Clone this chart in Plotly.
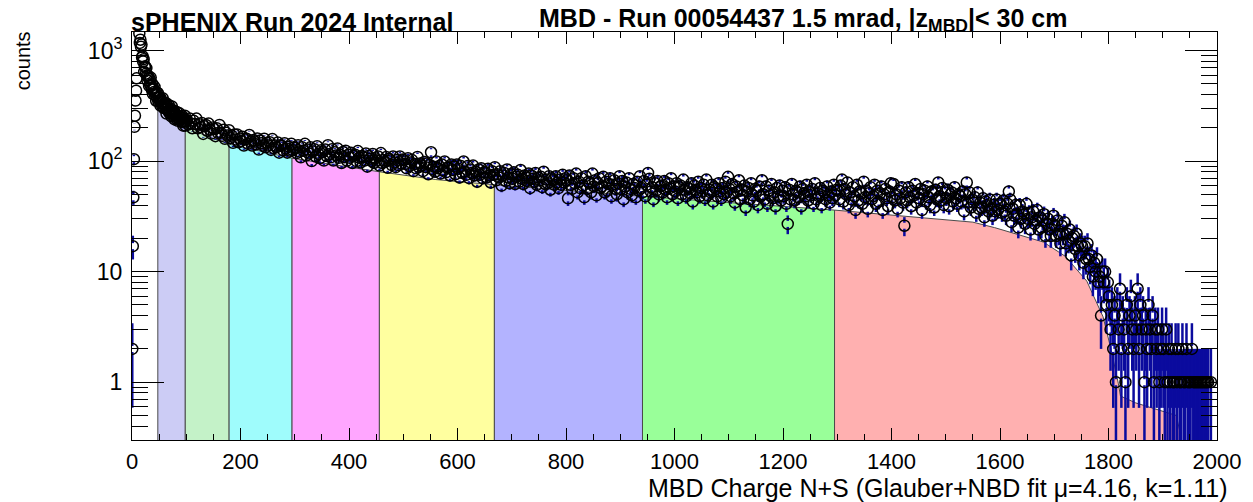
import numpy as np
import plotly.graph_objects as go

# ---------------- data ----------------
# very first bins (width 1, x = 0 .. 10): threshold rise
rise_x = [0.5, 1.5, 2.5, 3.5, 4.5, 5.5, 6.5, 7.5, 8.5, 9.5]
rise_counts = [2, 17, 47, 104, 204, 257, 352, 433, 560, 2100]

# bins of width 1 from 10 to 100
fine_start, fine_width = 10, 1
fine_counts = [
    2060, 1710, 1744, 1421, 1170, 1251, 1080, 1130, 865, 887,
    795, 835, 641, 717, 714, 616, 693, 596, 535, 593,
    564, 478, 553, 488, 569, 478, 443, 497, 405, 453,
    422, 468, 393, 410, 351, 416, 373, 413, 347, 374,
    355, 378, 317, 354, 356, 317, 370, 326, 302, 331,
    320, 300, 335, 269, 318, 299, 287, 322, 273, 293,
    278, 298, 254, 312, 260, 274, 264, 285, 238, 272,
    264, 242, 278, 250, 231, 256, 237, 270, 238, 253,
    246, 225, 256, 228, 209, 244, 228, 257, 209, 228,
]

# bins of width 2.5 from 100 to 2000 (40 bins per 100 units)
main_start, main_width = 100, 2.5
main_counts = [
    # 100-200
    234, 214, 243, 218, 198, 231, 216, 242, 198, 215, 203, 221, 176, 206, 212, 188, 218, 192, 177, 201,
    195, 168, 198, 179, 212, 180, 169, 192, 159, 180, 170, 190, 161, 170, 146, 174, 157, 174, 148, 160,
    # 200-300
    152, 166, 138, 157, 159, 143, 172, 150, 138, 155, 150, 142, 160, 127, 153, 145, 138, 159, 133, 146,
    138, 148, 126, 158, 131, 138, 133, 147, 119, 139, 137, 125, 145, 130, 119, 135, 124, 143, 125, 133,
    # 300-400
    131, 118, 139, 122, 108, 133, 124, 143, 112, 127, 117, 133, 100, 122, 128, 110, 136, 116, 106, 125,
    120, 101, 127, 111, 139, 115, 108, 128, 101, 120, 112, 130, 107, 114, 96, 121, 108, 124, 101, 114,
    # 400-500
    107, 119, 96, 111, 114, 100, 123, 107, 97, 111, 108, 101, 117, 89, 111, 105, 100, 116, 96, 106,
    101, 110, 91, 118, 96, 102, 98, 109, 87, 105, 101, 92, 110, 97, 88, 102, 92, 110, 95, 103,
    # 500-600
    102, 94, 86, 106, 90, 97, 102, 81, 94, 86, 109, 88, 95, 91, 81, 98, 88, 95, 76, 92,
    120, 84, 89, 80, 99, 86, 90, 77, 93, 82, 99, 79, 87, 88, 74, 93, 83, 89, 76, 93,
    # 600-700
    85, 71, 90, 78, 99, 80, 75, 90, 70, 84, 78, 91, 74, 80, 65, 84, 75, 86, 70, 79,
    79, 71, 85, 74, 64, 81, 75, 88, 67, 76, 71, 81, 60, 74, 78, 66, 84, 71, 63, 76,
    # 700-800
    69, 79, 62, 72, 75, 65, 83, 69, 62, 74, 71, 66, 77, 57, 74, 69, 65, 78, 61, 71,
    67, 72, 58, 80, 62, 68, 63, 73, 55, 70, 67, 61, 73, 64, 57, 68, 61, 75, 64, 70,
    # 800-900
    67, 46, 74, 61, 56, 70, 63, 77, 52, 65, 57, 70, 60, 47, 73, 56, 65, 63, 52, 77,
    59, 67, 49, 63, 70, 57, 59, 72, 52, 65, 54, 62, 70, 48, 61, 67, 56, 50, 63, 73,
    # 900-1000
    56, 66, 45, 59, 64, 52, 70, 56, 49, 62, 57, 47, 65, 54, 73, 57, 52, 66, 48, 61,
    78, 69, 53, 58, 45, 63, 54, 66, 50, 59, 60, 52, 66, 55, 47, 63, 57, 70, 50, 59,
    # 1000-1100
    53, 63, 46, 58, 60, 50, 68, 55, 48, 58, 56, 51, 63, 43, 60, 55, 52, 65, 48, 57,
    53, 61, 46, 68, 49, 55, 52, 61, 43, 58, 56, 48, 63, 53, 46, 57, 50, 65, 52, 72,
    # 1100-1200
    56, 48, 62, 51, 42, 59, 53, 67, 45, 55, 49, 60, 38, 53, 57, 45, 63, 49, 43, 56,
    54, 40, 59, 48, 67, 50, 45, 59, 41, 54, 49, 62, 46, 52, 39, 57, 48, 60, 44, 54,
    # 1200-1300
    48, 58, 41, 27, 55, 45, 62, 50, 44, 54, 52, 47, 59, 39, 56, 51, 48, 61, 44, 53,
    49, 56, 41, 63, 45, 51, 48, 57, 40, 54, 52, 45, 59, 49, 42, 53, 46, 61, 49, 55,
    # 1300-1400
    54, 45, 60, 68, 43, 56, 50, 64, 40, 52, 45, 58, 48, 36, 61, 44, 53, 51, 41, 65,
    47, 54, 37, 51, 58, 45, 48, 61, 41, 54, 43, 51, 59, 36, 50, 56, 46, 39, 53, 63,
    # 1400-1500
    47, 62, 44, 50, 37, 54, 46, 58, 42, 26, 52, 44, 58, 47, 39, 54, 49, 62, 42, 51,
    46, 56, 36, 50, 54, 43, 59, 47, 40, 53, 51, 38, 55, 45, 64, 48, 44, 57, 40, 52,
    # 1500-1600
    46, 55, 39, 50, 52, 43, 58, 46, 41, 50, 48, 43, 53, 35, 50, 64, 42, 52, 38, 45,
    42, 47, 34, 52, 37, 42, 38, 46, 31, 43, 40, 35, 45, 37, 32, 40, 35, 45, 36, 41,
    # 1600-1700
    41, 34, 44, 35, 32, 41, 53, 45, 28, 37, 32, 40, 33, 25, 40, 30, 35, 33, 27, 41,
    30, 34, 24, 31, 35, 27, 29, 36, 24, 31, 25, 29, 33, 21, 27, 30, 24, 21, 27, 32,
    # 1700-1800
    26, 21, 29, 22, 18, 26, 22, 28, 18, 22, 19, 24, 14, 20, 21, 16, 22, 17, 14, 18,
    17, 12, 17, 13, 18, 13, 11, 14, 9, 12, 10, 13, 8, 9, 4, 10, 8, 10, 5, 8,
    # 1800-1900
    6, 3, 5, 2, 4, 1, 5, 3, 7, 2, 4, 3, 1, 5, 2, 4, 6, 3, 2, 4,
    3, 7, 2, 5, 3, 4, 1, 3, 2, 5, 3, 2, 4, 1, 3, 2, 3, 1, 2, 3,
    # 1900-2000
    2, 1, 3, 1, 2, 1, 2, 1, 1, 2, 1, 2, 1, 1, 2, 1, 1, 2, 1, 1,
    1, 2, 1, 1, 1, 1, 1, 1, 1, 1, 1, 1, 1, 1, 0, 1, 0, 0, 0, 0,
]

fit_x = [47.6, 60, 75, 98.2, 130, 179, 230, 295, 370, 456, 560, 668, 800, 941,
         1100, 1295, 1450, 1550, 1590, 1620, 1680, 1720, 1760, 1790, 1805, 1818,
         1822, 1850, 1900, 1925, 1932]
fit_y = [344, 300, 262, 216, 174, 142, 124, 106, 93, 80, 68, 61, 54, 48,
         42, 36, 31, 28, 25, 22.5, 18.5, 13.8, 8.2, 3.9, 1.95, 0.98,
         0.75, 0.65, 0.55, 0.5, 0.35]

# centrality class boundaries and colours
class_edges = [47.6, 98.2, 179, 295, 456, 668, 941, 1295, 1932]
class_colors = ["#ccccf5", "#c4f2c8", "#9ffcfc", "#ffa6ff",
                "#ffff9f", "#b3b3ff", "#99ff99", "#ffb0b0"]

x_ticks = [0, 200, 400, 600, 800, 1000, 1200, 1400, 1600, 1800, 2000]
y_ticks = [1, 10, 100, 1000]
y_ticktext = ["1", "10", "10<sup>2</sup>", "10<sup>3</sup>"]
y_minor = [0.3, 0.4, 0.5, 0.6, 0.7, 0.8, 0.9,
           2, 3, 4, 5, 6, 7, 8, 9,
           20, 30, 40, 50, 60, 70, 80, 90,
           200, 300, 400, 500, 600, 700, 800, 900]

title_left = "sPHENIX Run 2024 Internal"
title_right = "MBD - Run 00054437 1.5 mrad, |z<sub>MBD</sub>|< 30 cm"
x_title = "MBD Charge N+S (Glauber+NBD fit \u03bc=4.16, k=1.11)"
y_title = "counts"

# ---------------- layout constants ----------------
W, H = 1253, 502
ML, MR, MT, MB = 132, 28, 32, 62
Y_RANGE = [np.log10(0.3), np.log10(1469)]
MARKER_SIZE = 11
BAR_GAP_PX = 3.0   # half gap left in the error bar around each marker

# ---------------- build points ----------------
fine_x = [fine_start + fine_width * (i + 0.5) for i in range(len(fine_counts))]
main_x = [main_start + main_width * (i + 0.5) for i in range(len(main_counts))]
all_x = np.array(rise_x + fine_x + main_x, dtype=float)
all_y = np.array(rise_counts + fine_counts + main_counts, dtype=float)
keep = all_y > 0
all_x, all_y = all_x[keep], all_y[keep]
all_err = np.sqrt(all_y)

# ROOT leaves a gap in the error bar where the marker is drawn
px_per_decade = (H - MT - MB) / (Y_RANGE[1] - Y_RANGE[0])
k = 10 ** (BAR_GAP_PX / px_per_decade)
ex, ey = [], []
for x, y, e in zip(all_x, all_y, all_err):
    hi, lo = y + e, y - e
    if hi > y * k:
        ex += [x, x, None]
        ey += [y * k, hi, None]
    lo_v = lo if lo > 0 else 1e-3
    if lo_v < y / k:
        ex += [x, x, None]
        ey += [lo_v, y / k, None]

FONT = "Liberation Sans, Arial, Helvetica, sans-serif"
fig = go.Figure()

# filled centrality classes under the fit
fx = np.array(fit_x)
fy = np.array(fit_y)
floor = 0.01
for i, col in enumerate(class_colors):
    a, b = class_edges[i], class_edges[i + 1]
    m = (fx >= a - 1e-9) & (fx <= b + 1e-9)
    px = list(fx[m]) + [b, a, a]
    py = list(fy[m]) + [floor, floor, fy[m][0]]
    fig.add_trace(go.Scatter(x=px, y=py, mode="lines", fill="toself",
                             fillcolor=col, line=dict(color="#4a4a4a", width=1),
                             hoverinfo="skip", showlegend=False))

# statistical error bars (outside the markers)
fig.add_trace(go.Scatter(x=ex, y=ey, mode="lines",
                         line=dict(color="#0b0b9e", width=2.5),
                         hoverinfo="skip", showlegend=False))

# data histogram
fig.add_trace(go.Scatter(
    x=all_x, y=all_y, mode="markers",
    marker=dict(symbol="circle-open", size=MARKER_SIZE, color="black",
                line=dict(width=1.5, color="black")),
    showlegend=False))

fig.update_layout(
    width=W, height=H, autosize=False,
    margin=dict(l=ML, r=MR, t=MT, b=MB, pad=0),
    paper_bgcolor="white", plot_bgcolor="white",
    font=dict(family=FONT, color="black", size=22),
    showlegend=False,
)
fig.update_xaxes(
    range=[0, 2000], tickvals=x_ticks, ticks="inside", ticklen=12, tickwidth=1,
    tickcolor="black", showline=True, linecolor="black", linewidth=1, mirror="ticks",
    showgrid=False, zeroline=False, tickfont=dict(size=22, family=FONT),
    ticklabelstandoff=2,
    minor=dict(dtick=50, tick0=0, ticks="inside", ticklen=6, tickcolor="black", showgrid=False),
)
fig.update_yaxes(
    type="log", range=Y_RANGE, tickvals=y_ticks, ticktext=y_ticktext,
    ticks="inside", ticklen=32, tickwidth=1, tickcolor="black",
    showline=True, linecolor="black", linewidth=1, mirror="ticks",
    showgrid=False, zeroline=False, tickfont=dict(size=23, family=FONT),
    ticklabelstandoff=4,
    minor=dict(tickmode="array", tickvals=y_minor, ticks="inside", ticklen=16,
               tickcolor="black", showgrid=False),
)

fig.add_annotation(text="<b>" + title_left + "</b>", xref="paper", yref="paper",
                   x=0, y=1, xanchor="left", yanchor="bottom", xshift=-3, yshift=-6,
                   showarrow=False, font=dict(size=25, family=FONT))
fig.add_annotation(text="<b>" + title_right + "</b>", xref="paper", yref="paper",
                   x=(540 - ML) / (W - ML - MR), y=1, xanchor="left", yanchor="bottom", yshift=-6,
                   showarrow=False, font=dict(size=25, family=FONT))
fig.add_annotation(text=x_title, xref="paper", yref="paper", x=1.011, y=-0.118,
                   xanchor="right", yanchor="middle", showarrow=False,
                   font=dict(size=25, family=FONT))
fig.add_annotation(text=y_title, xref="paper", yref="paper", x=-0.1006, y=1,
                   xanchor="center", yanchor="top", textangle=-90, yshift=3, showarrow=False,
                   font=dict(size=20, family=FONT))

fig.write_html("out.html", config={"displayModeBar": False},
               post_script="document.body.style.margin='0';")
